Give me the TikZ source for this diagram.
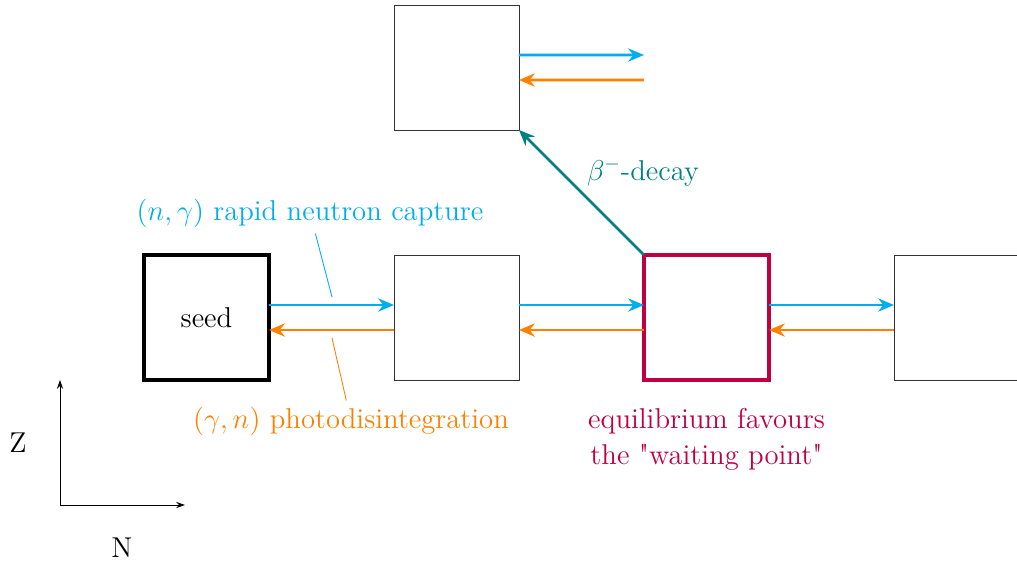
\documentclass[tikz,border=0pt]{standalone}
\usetikzlibrary{arrows.meta}
\definecolor{ncap}{RGB}{0,174,239}
\definecolor{phot}{RGB}{255,128,0}
\newcommand{\sbx}[1]{\scalebox{1.134}{#1}}
\begin{document}
\begin{tikzpicture}[x=0.02cm,y=-0.02cm,
  every node/.style={font=\Large},
  nuc/.style={draw=black!80,line width=0.4pt,minimum size=2.5cm,inner sep=0pt,outer sep=0pt},
  capt/.style={ncap,line width=1.5pt,-{Stealth[length=9pt,width=7.5pt]}},
  photo/.style={phot,line width=1.5pt,-{Stealth[length=9pt,width=7.5pt]}},
  axis/.style={black,line width=0.5pt,-{Stealth[length=5pt,width=3.5pt]}}]
\useasboundingbox (0,0) rectangle (1017,566);
% boxes
\node[nuc,draw=black,line width=2.3pt] (seed) at (206.5,317.5) {\sbx{seed}};
\node[nuc] (b2) at (456.5,317.5) {};
\node[nuc,draw=purple,line width=1.9pt] (wp) at (706.5,317.5) {};
\node[nuc] (b4) at (956.5,317.5) {};
\node[nuc] (top) at (456.5,67.5) {};
% horizontal arrows
\draw[capt] ([yshift=0.25cm]seed.east) -- ([yshift=0.25cm]b2.west);
\draw[photo] ([yshift=-0.25cm]b2.west) -- ([yshift=-0.25cm]seed.east);
\draw[capt] ([yshift=0.25cm]b2.east) -- ([yshift=0.25cm]wp.west);
\draw[photo] ([yshift=-0.25cm]wp.west) -- ([yshift=-0.25cm]b2.east);
\draw[capt] ([yshift=0.25cm]wp.east) -- ([yshift=0.25cm]b4.west);
\draw[photo] ([yshift=-0.25cm]b4.west) -- ([yshift=-0.25cm]wp.east);
% top box free ends
\coordinate (tc) at (644,55);
\coordinate (tp) at (644,80);
\draw[capt] ([yshift=0.25cm]top.east) -- (tc);
\draw[photo] (tp) -- ([yshift=-0.25cm]top.east);
% beta decay
\draw[teal,line width=1.5pt,-{Stealth[length=9pt,width=7.5pt]}] (wp.north west) -- (top.south east);
\node[teal] (beta) at (643,172) {\sbx{$\beta^-$-decay}};
% labels
\node[ncap] (lcap) at (310,213) {\sbx{$(n,\gamma)$ rapid neutron capture}};
\coordinate (pcap) at (332,297);
\draw[ncap,line width=0.5pt] (lcap) -- (pcap);
\node[phot] (lpho) at (351,421) {\sbx{$(\gamma,n)$ photodisintegration}};
\coordinate (ppho) at (332,338);
\draw[phot,line width=0.5pt] (lpho) -- (ppho);
\node[purple] (eq) at (706.5,439) {\sbx{\baselineskip=16.5pt\begin{tabular}{@{}c@{}}equilibrium favours\\the \textquotedbl waiting point\textquotedbl\end{tabular}}};
% axes
\coordinate (o) at (60,505);
\coordinate (zend) at (60,380);
\coordinate (nend) at (185,505);
\draw[axis] (o) -- (zend);
\draw[axis] (o) -- (nend);
\node (zl) at (18,443) {\sbx{Z}};
\node (nl) at (122,548) {\sbx{N}};
\end{tikzpicture}
\end{document}
